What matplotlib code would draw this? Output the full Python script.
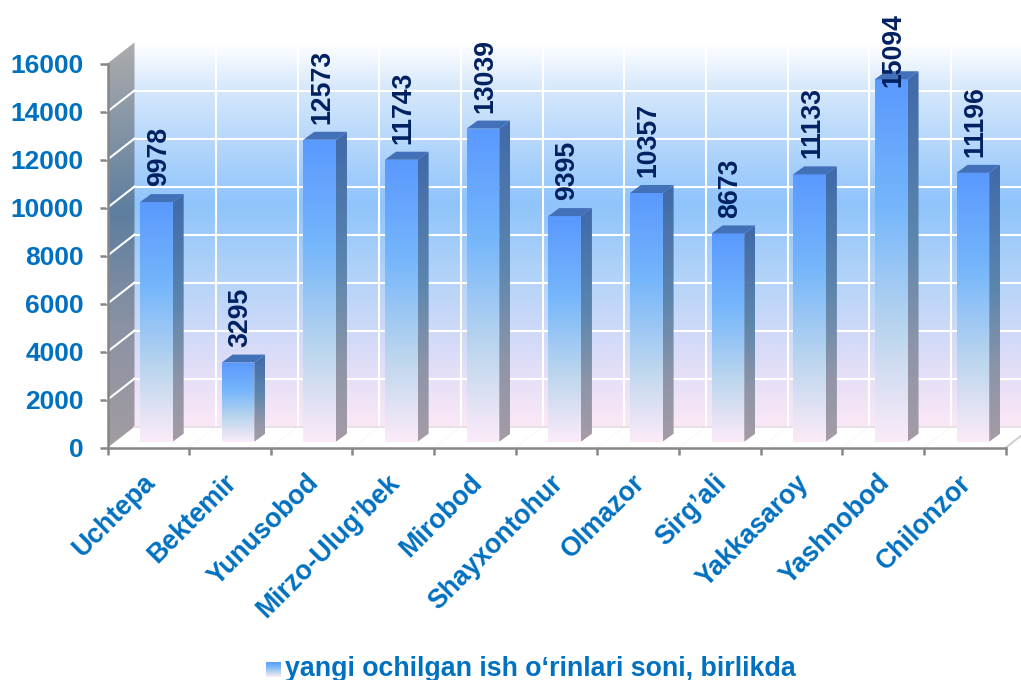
import numpy as np
import matplotlib
matplotlib.use("Agg")
import matplotlib.pyplot as plt
from matplotlib.colors import LinearSegmentedColormap
from matplotlib.patches import Polygon

plt.rcParams['font.family'] = ['Liberation Sans', 'DejaVu Sans']

categories = ["Uchtepa", "Bektemir", "Yunusobod", "Mirzo-Ulug\u2019bek", "Mirobod", "Shayxontohur",
              "Olmazor", "Sirg\u2019ali", "Yakkasaroy", "Yashnobod", "Chilonzor"]
values = [9978, 3295, 12573, 11743, 13039, 9395, 10357, 8673, 11133, 15094, 11196]
yticks = [0, 2000, 4000, 6000, 8000, 10000, 12000, 14000, 16000]
legend_label = "yangi ochilgan ish o\u2018rinlari soni, birlikda"

W, H = 1021, 680
BLUE = "#0070c0"
NAVY = "#002060"
GRAY = "#868686"

# depth of the fake 3d box, in data units (1 cat = 81.7px, 1000 = 24px)
wall_dx, wall_dy = 27 / 81.7, 21 / 0.024
bar_dx, bar_dy = 11 / 81.7, 8 / 0.024
bar_left, bar_w = 0.398, 0.4
base_dy = 6 / 0.024

back_stops = [(0, "#ffffff"), (0.12, "#d6e8fc"), (0.42, "#8fc4fb"), (0.62, "#b4d4f8"),
              (0.85, "#e2def8"), (1, "#fbe8f6")]
wall_stops = [(0, "#acacac"), (0.42, "#5d7e9f"), (0.7, "#8a92a4"), (1, "#a49ca2")]
front_stops = [(0, "#5a99ff"), (0.35, "#75b6fb"), (0.7, "#bcd6ee"), (1, "#fcebf9")]
side_stops = [(0, "#3f69a9"), (0.45, "#5c86ae"), (0.75, "#8e95a8"), (1, "#a69ba6")]
top_color = "#4270b9"

fig = plt.figure(figsize=(W / 100, H / 100), dpi=100)
ax = fig.add_axes([107.5 / W, (H - 447.7) / H, 898.2 / W, 384.2 / H])


def grad(pts, stops, z=1):
    # vertical gradient clipped to a polygon, box is the whole figure so it can leave the axes
    pts = np.array(pts)
    cmap = LinearSegmentedColormap.from_list("g", stops)
    im = ax.imshow(np.linspace(0, 1, 256).reshape(-1, 1), cmap=cmap, aspect="auto", origin="upper",
                   extent=[pts[:, 0].min(), pts[:, 0].max(), pts[:, 1].min(), pts[:, 1].max()],
                   zorder=z)
    im.set_clip_box(fig.bbox)
    im.set_clip_path(Polygon(pts, transform=ax.transData))
    return im


n = len(categories)
ymax = yticks[-1]

# back wall, left wall, floor
grad([(wall_dx, wall_dy), (n + wall_dx, wall_dy), (n + wall_dx, ymax + wall_dy), (wall_dx, ymax + wall_dy)],
     back_stops)
grad([(0, 0), (wall_dx, wall_dy), (wall_dx, ymax + wall_dy), (0, ymax)], wall_stops)

for v in yticks[1:-1]:
    ax.plot([wall_dx, n + wall_dx], [v + wall_dy] * 2, color="white", lw=1.5, zorder=2, clip_on=False)
    ax.plot([0, wall_dx], [v, v + wall_dy], color="white", lw=1.5, zorder=2, clip_on=False)
for i in range(1, n + 1):
    ax.plot([i + wall_dx] * 2, [wall_dy, ymax + wall_dy], color="white", lw=1.5, zorder=2, clip_on=False)
    ax.plot([i, i + wall_dx], [0, wall_dy], color="#ece8ec", lw=0.7, ls=":", zorder=2, clip_on=False)
ax.plot([wall_dx, n + wall_dx], [wall_dy, wall_dy], color="#e2dee2", lw=1.2, zorder=2, clip_on=False)
ax.plot([n, n + wall_dx], [0, wall_dy], color="#c8c8c8", lw=1.2, zorder=2, clip_on=False)

# bars
for i, v in enumerate(values):
    x0 = i + bar_left
    x1 = x0 + bar_w
    y0 = base_dy
    y1 = base_dy + v
    grad([(x0, y0), (x1, y0), (x1, y1), (x0, y1)], front_stops, z=3)
    grad([(x1, y0), (x1 + bar_dx, y0 + bar_dy), (x1 + bar_dx, y1 + bar_dy), (x1, y1)], side_stops, z=3)
    ax.add_patch(Polygon([(x0, y1), (x1, y1), (x1 + bar_dx, y1 + bar_dy), (x0 + bar_dx, y1 + bar_dy)],
                         facecolor=top_color, edgecolor="none", zorder=3, clip_on=False))
    # Yashnobod label would leave the picture so it sits lower, over the bar
    gap = -650 if v > 15000 else 330
    ax.text(x0 + bar_w / 2 + 0.03, y1 + bar_dy + gap, str(v), rotation=90, ha="center", va="bottom",
            color=NAVY, fontsize=19.2, fontweight="bold", zorder=5, clip_on=False)

ax.set_xlim(0, n)
ax.set_ylim(0, ymax)
ax.patch.set_visible(False)
for s in ["top", "right"]:
    ax.spines[s].set_visible(False)
for s in ["left", "bottom"]:
    ax.spines[s].set_color(GRAY)
    ax.spines[s].set_linewidth(1.8)
    ax.spines[s].set_zorder(4)

ax.set_yticks(yticks)
ax.set_yticklabels([str(v) for v in yticks], color=BLUE, fontsize=19, fontweight="bold")
ax.tick_params(axis="y", length=6, width=1.8, color=GRAY, pad=11)
ax.set_xticks(np.arange(n + 1))
ax.set_xticklabels([])
ax.tick_params(axis="x", length=5, width=1.8, color=GRAY)
for i, name in enumerate(categories):
    ax.annotate(name, (i + 0.424, 0), xytext=(0, -16), textcoords="offset points", rotation=45,
                rotation_mode="anchor", ha="right", va="top", color=BLUE, fontsize=19.2, fontweight="bold",
                annotation_clip=False)

# legend
leg = fig.add_axes([266 / W, (H - 677) / H, 15 / W, 15.5 / H])
leg.imshow(np.linspace(0, 1, 64).reshape(-1, 1), cmap=LinearSegmentedColormap.from_list("l", front_stops),
           aspect="auto")
leg.axis("off")
fig.text(285 / W, (H - 669) / H, legend_label, color=BLUE, fontsize=19.3, fontweight="bold", ha="left", va="center")

fig.savefig("out.png", dpi=100)
